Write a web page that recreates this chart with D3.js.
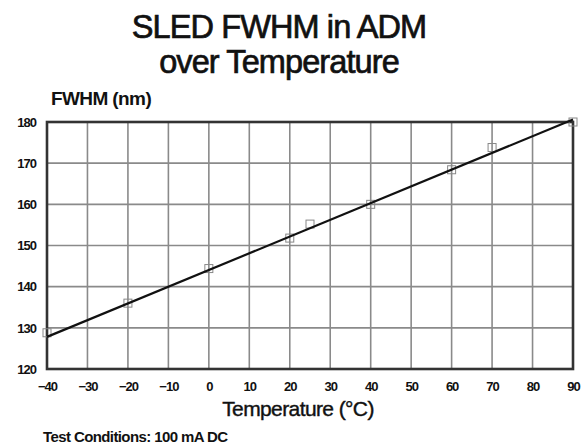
<!DOCTYPE html>
<html><head><meta charset="utf-8">
<script src="https://cdn.jsdelivr.net/npm/d3@7"></script>
<style>body{margin:0;background:#fff}svg{display:block}text{font-family:"Liberation Sans",Arial,sans-serif;fill:#111}</style>
</head><body><svg id="c" width="582" height="445"></svg>
<script>
const titleLines = ["SLED FWHM in ADM", "over Temperature"];
const yTitle = "FWHM (nm)";
const xTitle = "Temperature (°C)";
const note = "Test Conditions: 100 mA DC";
const xTicks = [-40,-30,-20,-10,0,10,20,30,40,50,60,70,80,90];
const yTicks = [120,130,140,150,160,170,180];
const tempC = [-40, -20, 0, 20, 25, 40, 60, 70, 90];
const fwhm  = [128.8, 136, 144.4, 151.8, 155.2, 160, 168.4, 173.8, 180];
const fitX = [-40, 90];
const fitY = [127.8, 180.6];

const svg = d3.select("#c");
const L = 47, R = 573, T = 122, B = 369;
const x = d3.scaleLinear().domain([-40, 90]).range([L, R]);
const y = d3.scaleLinear().domain([120, 180]).range([B, T]);

svg.selectAll("text.title").data(titleLines).enter().append("text")
  .attr("x", 279).attr("y", (d,i)=>38 + i*35).attr("text-anchor","middle")
  .style("font-size","32.5px").style("letter-spacing","-0.9px")
  .style("stroke","#111").style("stroke-width","0.7px").text(d=>d);

svg.append("text").attr("x", 51).attr("y", 105).style("font-size","19px").style("font-weight","bold")
  .style("letter-spacing","-0.6px").text(yTitle);

// grid
const g = svg.append("g");
g.selectAll("line.vx").data(xTicks).enter().append("line")
  .attr("x1", d=>x(d)).attr("x2", d=>x(d)).attr("y1", T).attr("y2", B)
  .attr("stroke","#8a8a8a").attr("stroke-width",1.6);
g.selectAll("line.hy").data(yTicks).enter().append("line")
  .attr("y1", d=>y(d)).attr("y2", d=>y(d)).attr("x1", L).attr("x2", R)
  .attr("stroke","#8a8a8a").attr("stroke-width",1.6);

// frame
svg.append("rect").attr("x", L).attr("y", T).attr("width", R-L).attr("height", B-T)
  .attr("fill","none").attr("stroke","#333").attr("stroke-width",2.6);

// axes labels
const xa = d3.axisBottom(x).tickValues(xTicks).tickSize(0).tickPadding(13);
svg.append("g").attr("transform",`translate(0,${B})`).call(xa)
  .call(s=>s.select(".domain").remove())
  .selectAll("text").style("font-size","13px").style("font-weight","bold").style("letter-spacing","-1px")
  .attr("font-family", null);
const ya = d3.axisLeft(y).tickValues(yTicks).tickSize(0).tickPadding(11);
svg.append("g").attr("transform",`translate(${L},0)`).call(ya)
  .call(s=>s.select(".domain").remove())
  .selectAll("text").style("font-size","13px").style("font-weight","bold").style("letter-spacing","-1px")
  .attr("font-family", null);

// markers
svg.selectAll("rect.pt").data(tempC).enter().append("rect")
  .attr("x", d=>x(d)-4).attr("y", (d,i)=>y(fwhm[i])-4).attr("width",8).attr("height",8)
  .attr("fill","none").attr("stroke","#888").attr("stroke-width",1);

// fit line
svg.append("path").datum(fitX.map((d,i)=>[d, fitY[i]]))
  .attr("d", d3.line().x(d=>x(d[0])).y(d=>y(d[1])))
  .attr("stroke","#111").attr("stroke-width",2.2).attr("fill","none");

svg.append("text").attr("x", 298).attr("y", 416).attr("text-anchor","middle")
  .style("font-size","21px").style("letter-spacing","-0.6px")
  .style("stroke","#111").style("stroke-width","0.4px").text(xTitle);
svg.append("text").attr("x", 43).attr("y", 442).style("font-size","15px").style("font-weight","bold")
  .style("letter-spacing","-0.6px").text(note);
</script></body></html>
